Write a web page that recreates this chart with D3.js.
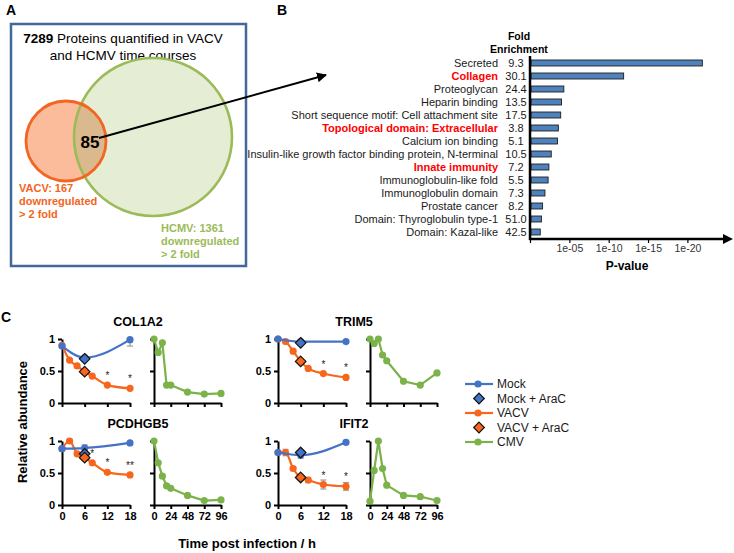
<!DOCTYPE html>
<html>
<head>
<meta charset="utf-8">
<script src="https://cdn.jsdelivr.net/npm/d3@7"></script>
<style>
  body { margin: 0; background: #fff; }
  svg { display: block; font-family: "Liberation Sans", Arial, sans-serif; }
</style>
</head>
<body>
<svg id="chart" width="734" height="553"></svg>
<script>
// ---------------- DATA ----------------
// Panel A (Venn)
const totalProteins = 7289;
const vacvDown = 167;
const hcmvDown = 1361;
const overlap = 85;

// Panel B (enrichment)
const categories = ["Secreted","Collagen","Proteoglycan","Heparin binding","Short sequence motif: Cell attachment site","Topological domain: Extracellular","Calcium ion binding","Insulin-like growth factor binding protein, N-terminal","Innate immunity","Immunoglobulin-like fold","Immunoglobulin domain","Prostate cancer","Domain: Thyroglobulin type-1","Domain: Kazal-like"];
const foldEnrichment = ["9.3","30.1","24.4","13.5","17.5","3.8","5.1","10.5","7.2","5.5","7.3","8.2","51.0","42.5"];
const negLog10P = [21.9, 11.9, 4.3, 4.0, 3.9, 3.6, 3.5, 2.7, 2.4, 2.3, 1.9, 1.6, 1.45, 1.3];
const highlighted = ["Collagen","Topological domain: Extracellular","Innate immunity"];
const pTicks = [0, 5, 10, 15, 20];

// Panel C (time courses)
const genes = ["COL1A2","TRIM5","PCDHGB5","IFIT2"];
const vacvTimes = [0, 2, 4, 6, 8, 12, 18];
const mockTimes = [0, 6, 18];
const cmvTimes = [0, 6, 12, 18, 24, 48, 72, 96];
const vacvTicks = [0, 6, 12, 18];
const cmvTicks = [0, 24, 48, 72, 96];
const yTicks = [0, 0.5, 1];

const mockValues = [
  [0.89, 0.71, 0.99],
  [1.00, 0.96, 0.96],
  [0.88, 0.89, 0.97],
  [0.82, 0.78, 0.98]
];
const mockErrLow = [
  [0.03, 0, 0.1],
  [0, 0, 0],
  [0, 0.05, 0],
  [0, 0.05, 0.03]
];
const mockErrHigh = [
  [0.03, 0, 0],
  [0, 0, 0],
  [0, 0.05, 0],
  [0, 0.05, 0.03]
];
const mockAraC = [0.69, 0.94, 0.80, 0.82];
const vacvValues = [
  [0.90, 0.67, 0.58, 0.49, 0.42, 0.28, 0.23],
  [1.00, 0.96, 0.81, 0.65, 0.54, 0.46, 0.40],
  [0.88, 1.00, 0.80, 0.74, 0.66, 0.51, 0.47],
  [0.82, 0.82, 0.57, 0.43, 0.39, 0.32, 0.29]
];
const vacvErr = [
  [0, 0, 0, 0, 0, 0, 0],
  [0, 0, 0, 0, 0, 0, 0],
  [0, 0.03, 0, 0, 0, 0, 0],
  [0, 0.05, 0.03, 0, 0.04, 0.07, 0.06]
];
const vacvAraC = [0.49, 0.65, 0.74, 0.43];
const cmvValues = [
  [1.00, 0.79, 0.94, 0.28, 0.28, 0.17, 0.14, 0.15],
  [1.00, 0.93, 1.00, 0.75, 0.66, 0.34, 0.28, 0.47],
  [1.00, 0.66, 0.45, 0.30, 0.26, 0.15, 0.07, 0.08],
  [0.06, 0.54, 1.00, 0.57, 0.31, 0.15, 0.13, 0.07]
];
const significance = [
  [{t: 12, s: "*"}, {t: 18, s: "*"}],
  [{t: 12, s: "*"}, {t: 18, s: "*"}],
  [{t: 8, s: "*"}, {t: 12, s: "*"}, {t: 18, s: "**"}],
  [{t: 12, s: "*"}, {t: 18, s: "*"}]
];
const legendItems = ["Mock", "Mock + AraC", "VACV", "VACV + AraC", "CMV"];

// ---------------- STYLE ----------------
const C_BLUE = "#4472c4";
const C_ORANGE = "#f7661c";
const C_GREEN = "#7bb249";
const C_ERR = "#9a9a9a";

const svg = d3.select("#chart");

// ---------------- Panel letters ----------------
svg.append("text").attr("x", 6).attr("y", 15).attr("font-size", 14).attr("font-weight", "bold").text("A");
svg.append("text").attr("x", 277).attr("y", 15).attr("font-size", 14).attr("font-weight", "bold").text("B");
svg.append("text").attr("x", 1).attr("y", 322).attr("font-size", 14).attr("font-weight", "bold").text("C");

// ---------------- Panel A ----------------
const gA = svg.append("g");
gA.append("rect").attr("x", 11).attr("y", 24).attr("width", 235).attr("height", 242)
  .attr("fill", "none").attr("stroke", "#41679b").attr("stroke-width", 2.5);
const tA = gA.append("text").attr("x", 123).attr("y", 43).attr("text-anchor", "middle").attr("font-size", 13.5);
tA.append("tspan").attr("font-weight", "bold").text(totalProteins);
tA.append("tspan").text(" Proteins quantified in VACV");
gA.append("text").attr("x", 123).attr("y", 60).attr("text-anchor", "middle").attr("font-size", 13.5).text("and HCMV time courses");

const vc = {x: 66, y: 141, r: 40};
const hc = {x: 153, y: 137, r: 79};
const defs = svg.append("defs");
defs.append("clipPath").attr("id", "clipH").append("circle").attr("cx", hc.x).attr("cy", hc.y).attr("r", hc.r);
gA.append("circle").attr("cx", vc.x).attr("cy", vc.y).attr("r", vc.r).attr("fill", "#fbbc9c");
gA.append("circle").attr("cx", hc.x).attr("cy", hc.y).attr("r", hc.r).attr("fill", "#e5edd4");
gA.append("circle").attr("cx", vc.x).attr("cy", vc.y).attr("r", vc.r).attr("fill", "#dbb98e").attr("clip-path", "url(#clipH)");
gA.append("circle").attr("cx", hc.x).attr("cy", hc.y).attr("r", hc.r).attr("fill", "none").attr("stroke", "#9bbb59").attr("stroke-width", 2.6);
gA.append("circle").attr("cx", vc.x).attr("cy", vc.y).attr("r", vc.r).attr("fill", "none").attr("stroke", "#f26522").attr("stroke-width", 2.8);

gA.append("text").attr("x", 90).attr("y", 148).attr("text-anchor", "middle").attr("font-size", 17).attr("font-weight", "bold").text(overlap);

const vLab = gA.append("text").attr("font-size", 11).attr("font-weight", "bold").attr("fill", "#f26522");
["VACV: " + vacvDown, "downregulated", "> 2 fold"].forEach((s, i) =>
  vLab.append("tspan").attr("x", 19).attr("y", 192 + i * 13).text(s));
const hLab = gA.append("text").attr("font-size", 11).attr("font-weight", "bold").attr("fill", "#9bbb59");
["HCMV: " + hcmvDown, "downregulated", "> 2 fold"].forEach((s, i) =>
  hLab.append("tspan").attr("x", 161).attr("y", 232 + i * 13).text(s));

// Arrow from overlap to panel B
defs.append("marker").attr("id", "arrowK").attr("viewBox", "0 0 10 10").attr("refX", 9).attr("refY", 5)
  .attr("markerWidth", 5).attr("markerHeight", 5).attr("orient", "auto")
  .append("path").attr("d", "M0,0 L10,5 L0,10 z").attr("fill", "#000");
svg.append("line").attr("x1", 99).attr("y1", 138).attr("x2", 326).attr("y2", 75)
  .attr("stroke", "#000").attr("stroke-width", 2).attr("marker-end", "url(#arrowK)");

// ---------------- Panel B ----------------
const gB = svg.append("g");
const yB = d3.scaleBand().domain(categories).range([56.5, 238.5]).paddingInner(0.54).paddingOuter(0.27);
const xB = d3.scaleLinear().domain([0, 25]).range([530, 530 + 25 * 7.87]);

gB.selectAll("rect.bar").data(categories).join("rect").attr("class", "bar")
  .attr("x", xB(0) + 1)
  .attr("y", d => yB(d))
  .attr("width", (d, i) => xB(negLog10P[i]) - xB(0) - 1)
  .attr("height", yB.bandwidth())
  .attr("fill", "#4f81bd").attr("stroke", "#1d1d1d").attr("stroke-width", 0.9);

gB.selectAll("text.cat").data(categories).join("text").attr("class", "cat")
  .attr("x", 498).attr("y", d => yB(d) + yB.bandwidth() / 2).attr("dy", "0.35em")
  .attr("text-anchor", "end").attr("font-size", 11)
  .attr("font-weight", d => highlighted.includes(d) ? "bold" : "normal")
  .attr("fill", d => highlighted.includes(d) ? "#ff0000" : "#1a1a1a")
  .text(d => d);

gB.selectAll("text.fe").data(categories).join("text").attr("class", "fe")
  .attr("x", 516).attr("y", d => yB(d) + yB.bandwidth() / 2).attr("dy", "0.35em")
  .attr("text-anchor", "middle").attr("font-size", 11).attr("fill", "#1a1a1a")
  .text((d, i) => foldEnrichment[i]);

gB.append("text").attr("x", 519).attr("y", 40).attr("text-anchor", "middle").attr("font-size", 10.5).attr("font-weight", "bold").text("Fold");
gB.append("text").attr("x", 519).attr("y", 53).attr("text-anchor", "middle").attr("font-size", 10.5).attr("font-weight", "bold").text("Enrichment");

// vertical axis line
gB.append("line").attr("x1", 530).attr("x2", 530).attr("y1", 56).attr("y2", 240).attr("stroke", "#000").attr("stroke-width", 2.5);
// x axis
const axB = gB.append("g").attr("transform", "translate(0,239)")
  .call(d3.axisBottom(xB).tickValues(pTicks).tickSize(4).tickSizeOuter(0)
    .tickFormat(d => d === 0 ? "" : "1e-" + String(d).padStart(2, "0")));
axB.select(".domain").remove();
axB.selectAll(".tick line").attr("stroke", "#000").attr("stroke-width", 1.2);
axB.selectAll(".tick text").attr("font-size", 10.5).attr("font-family", "Liberation Sans, Arial, sans-serif").attr("fill", "#333").attr("y", 6);
defs.append("marker").attr("id", "arrowB").attr("viewBox", "0 0 10 10").attr("refX", 2).attr("refY", 5)
  .attr("markerWidth", 4).attr("markerHeight", 4).attr("orient", "auto")
  .append("path").attr("d", "M0,0 L10,5 L0,10 z").attr("fill", "#000");
gB.append("line").attr("x1", 529).attr("x2", 725).attr("y1", 239).attr("y2", 239)
  .attr("stroke", "#000").attr("stroke-width", 2.5).attr("marker-end", "url(#arrowB)");
gB.append("text").attr("x", 627).attr("y", 270).attr("text-anchor", "middle").attr("font-size", 12).attr("font-weight", "bold").text("P-value");

// ---------------- Panel C ----------------
function diamondPath(x, y, s) {
  return `M${x},${y - s} L${x + s},${y} L${x},${y + s} L${x - s},${y} Z`;
}

genes.forEach((gene, gi) => {
  const row = gi < 2 ? 0 : 1;
  const col = gi % 2;
  const left = col === 0 ? 62 : 278;
  const y0 = row === 0 ? 403 : 505;
  const g = svg.append("g");
  const y = d3.scaleLinear().domain([0, 1]).range([y0, y0 - 64]);
  const xV = d3.scaleLinear().domain([0, 18]).range([left, left + 68]);
  const xC = d3.scaleLinear().domain([0, 96]).range([left + 92, left + 159]);

  function styleAxis(sel) {
    sel.selectAll(".domain").attr("stroke", "#000").attr("stroke-width", 2);
    sel.selectAll(".tick line").attr("stroke", "#000").attr("stroke-width", 2);
    sel.selectAll(".tick text").attr("font-size", 11).attr("font-weight", "bold")
      .attr("font-family", "Liberation Sans, Arial, sans-serif").attr("fill", "#000");
  }
  const showX = row === 1;
  g.append("g").attr("transform", `translate(0,${y0})`)
    .call(d3.axisBottom(xV).tickValues(vacvTicks).tickSize(4).tickSizeOuter(0).tickFormat(d => showX ? d : ""))
    .call(styleAxis);
  g.append("g").attr("transform", `translate(0,${y0})`)
    .call(d3.axisBottom(xC).tickValues(cmvTicks).tickSize(4).tickSizeOuter(0).tickFormat(d => showX ? d : ""))
    .call(styleAxis);
  g.append("g").attr("transform", `translate(${left},0)`)
    .call(d3.axisLeft(y).tickValues(yTicks).tickSize(4).tickSizeOuter(0).tickFormat(d3.format("")))
    .call(styleAxis);
  g.append("g").attr("transform", `translate(${left + 92},0)`)
    .call(d3.axisLeft(y).tickValues(yTicks).tickSize(4).tickSizeOuter(0).tickFormat(() => ""))
    .call(styleAxis);

  g.append("text").attr("x", left + 76).attr("y", y0 - 77).attr("text-anchor", "middle")
    .attr("font-size", 12.5).attr("font-weight", "bold").text(gene);

  // CMV
  const cmvPts = cmvTimes.map((t, i) => [xC(t), y(cmvValues[gi][i])]);
  g.append("path").attr("d", d3.line()(cmvPts)).attr("fill", "none").attr("stroke", C_GREEN).attr("stroke-width", 2.2);
  g.selectAll("circle.cmv").data(cmvPts).join("circle").attr("class", "cmv")
    .attr("cx", d => d[0]).attr("cy", d => d[1]).attr("r", 3.6).attr("fill", C_GREEN);

  function errBars(times, vals, lo, hi, xs) {
    times.forEach((t, i) => {
      if (!lo[i] && !hi[i]) return;
      const cx = xs(t);
      const a = y(vals[i] + hi[i]), b = y(vals[i] - lo[i]);
      g.append("line").attr("x1", cx).attr("x2", cx).attr("y1", a).attr("y2", b).attr("stroke", C_ERR).attr("stroke-width", 1.2);
      if (hi[i]) g.append("line").attr("x1", cx - 3).attr("x2", cx + 3).attr("y1", a).attr("y2", a).attr("stroke", C_ERR).attr("stroke-width", 1.2);
      if (lo[i]) g.append("line").attr("x1", cx - 3).attr("x2", cx + 3).attr("y1", b).attr("y2", b).attr("stroke", C_ERR).attr("stroke-width", 1.2);
    });
  }

  // VACV
  errBars(vacvTimes, vacvValues[gi], vacvErr[gi], vacvErr[gi], xV);
  const vPts = vacvTimes.map((t, i) => [xV(t), y(vacvValues[gi][i])]);
  g.append("path").attr("d", d3.line().curve(d3.curveMonotoneX)(vPts)).attr("fill", "none").attr("stroke", C_ORANGE).attr("stroke-width", 2.2);
  g.selectAll("circle.v").data(vPts).join("circle").attr("class", "v")
    .attr("cx", d => d[0]).attr("cy", d => d[1]).attr("r", 3.6).attr("fill", C_ORANGE);

  // Mock
  errBars(mockTimes, mockValues[gi], mockErrLow[gi], mockErrHigh[gi], xV);
  const mPts = mockTimes.map((t, i) => [xV(t), y(mockValues[gi][i])]);
  g.append("path").attr("d", d3.line().curve(d3.curveMonotoneX)(mPts)).attr("fill", "none").attr("stroke", C_BLUE).attr("stroke-width", 2.2);
  g.selectAll("circle.m").data(mPts).join("circle").attr("class", "m")
    .attr("cx", d => d[0]).attr("cy", d => d[1]).attr("r", 3.6).attr("fill", C_BLUE);

  // AraC diamonds (at 6 h)
  g.append("path").attr("d", diamondPath(xV(6), y(mockAraC[gi]), 5.3)).attr("fill", C_BLUE).attr("stroke", "#111").attr("stroke-width", 1.2);
  g.append("path").attr("d", diamondPath(xV(6), y(vacvAraC[gi]), 5.3)).attr("fill", C_ORANGE).attr("stroke", "#111").attr("stroke-width", 1.2);

  // significance
  significance[gi].forEach(s => {
    const i = vacvTimes.indexOf(s.t);
    g.append("text").attr("x", xV(s.t)).attr("y", y(vacvValues[gi][i]) - 6)
      .attr("text-anchor", "middle").attr("font-size", 10).attr("fill", "#222").text(s.s);
  });
});

// y label
svg.append("text").attr("transform", "translate(27,422) rotate(-90)").attr("text-anchor", "middle")
  .attr("font-size", 13).attr("font-weight", "bold").text("Relative abundance");
// x label
svg.append("text").attr("x", 247).attr("y", 548).attr("text-anchor", "middle")
  .attr("font-size", 13).attr("font-weight", "bold").text("Time post infection / h");

// Legend
const legY = d3.scalePoint().domain(legendItems).range([384, 442]);
const legendStyle = {
  "Mock": {c: C_BLUE, type: "line"},
  "Mock + AraC": {c: C_BLUE, type: "diamond"},
  "VACV": {c: C_ORANGE, type: "line"},
  "VACV + AraC": {c: C_ORANGE, type: "diamond"},
  "CMV": {c: C_GREEN, type: "line"}
};
const gL = svg.append("g");
legendItems.forEach(name => {
  const yy = legY(name), st = legendStyle[name];
  if (st.type === "line") {
    gL.append("line").attr("x1", 465).attr("x2", 493).attr("y1", yy).attr("y2", yy).attr("stroke", st.c).attr("stroke-width", 2.2);
    gL.append("circle").attr("cx", 478).attr("cy", yy).attr("r", 3.6).attr("fill", st.c);
  } else {
    gL.append("path").attr("d", diamondPath(479, yy, 5.3)).attr("fill", st.c).attr("stroke", "#111").attr("stroke-width", 1.2);
  }
  gL.append("text").attr("x", 497).attr("y", yy).attr("dy", "0.35em").attr("font-size", 12).attr("fill", "#1a1a1a").text(name);
});
</script>
</body>
</html>
